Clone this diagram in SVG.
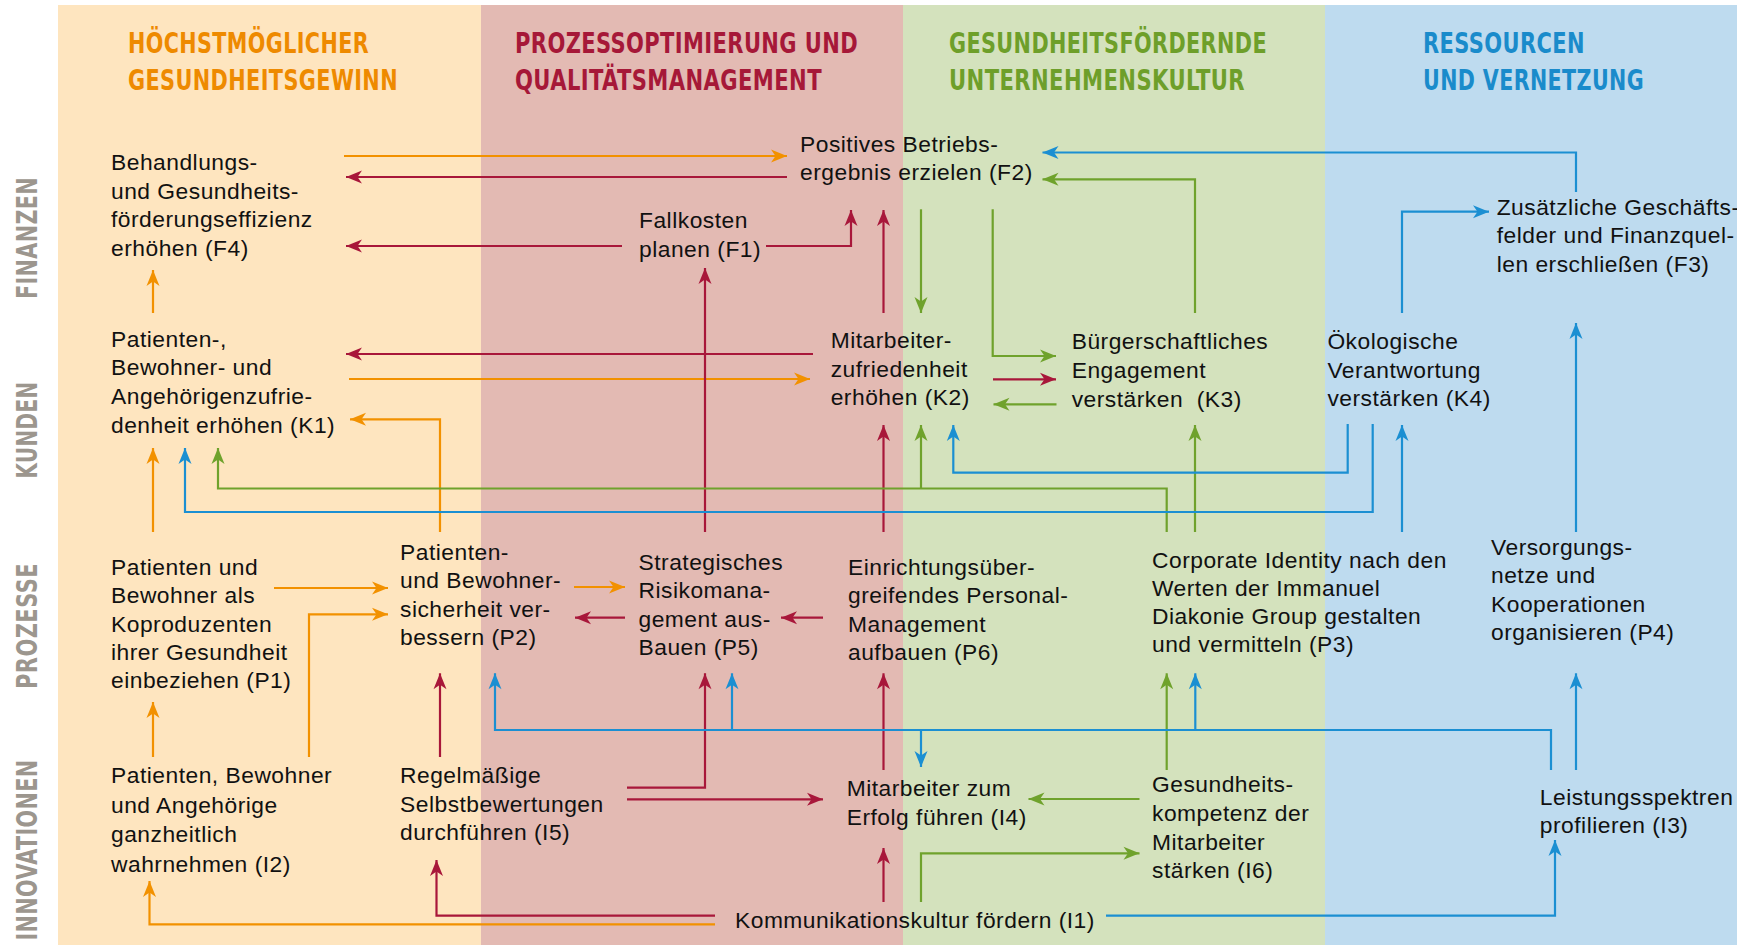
<svg xmlns="http://www.w3.org/2000/svg" width="1737" height="947" viewBox="0 0 1737 947">
<style>
.t{font-family:"Liberation Sans",Arial,Helvetica,sans-serif;font-size:22.8px;letter-spacing:0.5px;fill:#111;white-space:pre}
.h{font-family:"DejaVu Sans Condensed","DejaVu Sans",sans-serif;font-weight:bold;font-size:29px;letter-spacing:0.5px}
.rl{font-family:"DejaVu Sans Condensed","DejaVu Sans",sans-serif;font-weight:bold;font-size:29px;letter-spacing:0.5px;fill:#9C968E}
.c{fill:none;stroke-width:2.2}
.o{stroke:#F29100}.r{stroke:#A8173A}.g{stroke:#6FA22C}.b{stroke:#1B8FD2}
</style>
<defs>
<marker id="mo" markerUnits="userSpaceOnUse" markerWidth="20" markerHeight="16" viewBox="-18 -8 20 16" refX="0" refY="0" orient="auto"><path d="M0,0 L-16,-6.5 L-11.5,0 L-16,6.5Z" fill="#F29100"/></marker>
<marker id="mr" markerUnits="userSpaceOnUse" markerWidth="20" markerHeight="16" viewBox="-18 -8 20 16" refX="0" refY="0" orient="auto"><path d="M0,0 L-16,-6.5 L-11.5,0 L-16,6.5Z" fill="#A8173A"/></marker>
<marker id="mg" markerUnits="userSpaceOnUse" markerWidth="20" markerHeight="16" viewBox="-18 -8 20 16" refX="0" refY="0" orient="auto"><path d="M0,0 L-16,-6.5 L-11.5,0 L-16,6.5Z" fill="#6FA22C"/></marker>
<marker id="mb" markerUnits="userSpaceOnUse" markerWidth="20" markerHeight="16" viewBox="-18 -8 20 16" refX="0" refY="0" orient="auto"><path d="M0,0 L-16,-6.5 L-11.5,0 L-16,6.5Z" fill="#1B8FD2"/></marker>
</defs>
<rect x="0" y="0" width="1737" height="947" fill="#FFFFFF"/>
<g id="bands">
<rect x="58" y="5" width="423" height="940" fill="#FEE5BF"/>
<rect x="481" y="5" width="422" height="940" fill="#E3BAB3"/>
<rect x="903" y="5" width="422" height="940" fill="#D4E2BD"/>
<rect x="1325" y="5" width="412" height="940" fill="#BEDBEF"/>
</g>
<g id="column-titles">
<text class="h" fill="#EE8A00" x="128" y="53" textLength="241" lengthAdjust="spacingAndGlyphs">HÖCHSTMÖGLICHER</text>
<text class="h" fill="#EE8A00" x="128" y="90" textLength="270" lengthAdjust="spacingAndGlyphs">GESUNDHEITSGEWINN</text>
<text class="h" fill="#A61838" x="515" y="53" textLength="343" lengthAdjust="spacingAndGlyphs">PROZESSOPTIMIERUNG UND</text>
<text class="h" fill="#A61838" x="515" y="90" textLength="307" lengthAdjust="spacingAndGlyphs">QUALITÄTSMANAGEMENT</text>
<text class="h" fill="#6E9F2A" x="949" y="53" textLength="318" lengthAdjust="spacingAndGlyphs">GESUNDHEITSFÖRDERNDE</text>
<text class="h" fill="#6E9F2A" x="949" y="90" textLength="296" lengthAdjust="spacingAndGlyphs">UNTERNEHMENSKULTUR</text>
<text class="h" fill="#1A8BCB" x="1423" y="53" textLength="162" lengthAdjust="spacingAndGlyphs">RESSOURCEN</text>
<text class="h" fill="#1A8BCB" x="1423" y="90" textLength="221" lengthAdjust="spacingAndGlyphs">UND VERNETZUNG</text>
</g>
<g id="row-labels">
<text class="rl" transform="translate(36.5,238) rotate(-90)" text-anchor="middle" textLength="122" lengthAdjust="spacingAndGlyphs">FINANZEN</text>
<text class="rl" transform="translate(36.5,430) rotate(-90)" text-anchor="middle" textLength="97" lengthAdjust="spacingAndGlyphs">KUNDEN</text>
<text class="rl" transform="translate(36.5,626) rotate(-90)" text-anchor="middle" textLength="126" lengthAdjust="spacingAndGlyphs">PROZESSE</text>
<text class="rl" transform="translate(36.5,850) rotate(-90)" text-anchor="middle" textLength="181" lengthAdjust="spacingAndGlyphs">INNOVATIONEN</text>
</g>
<g id="connectors">
<path class="c o" marker-end="url(#mo)" d="M344,156 H787"/>
<path class="c o" marker-end="url(#mo)" d="M349,379 H810"/>
<path class="c o" marker-end="url(#mo)" d="M153,313 V270"/>
<path class="c o" marker-end="url(#mo)" d="M440,532 V419.3 H350"/>
<path class="c o" marker-end="url(#mo)" d="M153,532 V448"/>
<path class="c o" marker-end="url(#mo)" d="M274,588 H388"/>
<path class="c o" marker-end="url(#mo)" d="M309,757 V614.3 H388"/>
<path class="c o" marker-end="url(#mo)" d="M574,587 H625"/>
<path class="c o" marker-end="url(#mo)" d="M153,757 V702"/>
<path class="c o" marker-end="url(#mo)" d="M715,924.3 H149.5 V881"/>
<path class="c r" marker-end="url(#mr)" d="M787,177 H346"/>
<path class="c r" marker-end="url(#mr)" d="M622,246 H346"/>
<path class="c r" marker-end="url(#mr)" d="M766,246 H851 V210"/>
<path class="c r" marker-end="url(#mr)" d="M883.5,313 V210"/>
<path class="c r" marker-end="url(#mr)" d="M813,354 H346"/>
<path class="c r" marker-end="url(#mr)" d="M993,379.3 H1056"/>
<path class="c r" marker-end="url(#mr)" d="M705,532 V268"/>
<path class="c r" marker-end="url(#mr)" d="M883.5,532 V425"/>
<path class="c r" marker-end="url(#mr)" d="M625,617.7 H575"/>
<path class="c r" marker-end="url(#mr)" d="M823,617.7 H781"/>
<path class="c r" marker-end="url(#mr)" d="M440,757 V673.3"/>
<path class="c r" marker-end="url(#mr)" d="M627,787.7 H705 V673.3"/>
<path class="c r" marker-end="url(#mr)" d="M627,799.3 H823"/>
<path class="c r" marker-end="url(#mr)" d="M883.5,770 V673.3"/>
<path class="c r" marker-end="url(#mr)" d="M883.5,902 V848"/>
<path class="c r" marker-end="url(#mr)" d="M715,915.7 H436.5 V860"/>
<path class="c g" marker-end="url(#mg)" d="M921,209.3 V313"/>
<path class="c g" marker-end="url(#mg)" d="M992.7,209.3 V356 H1056"/>
<path class="c g" marker-end="url(#mg)" d="M1056.5,404.3 H993.5"/>
<path class="c g" marker-end="url(#mg)" d="M1195,313 V179.3 H1042.5"/>
<path class="c g" marker-end="url(#mg)" d="M1166.7,532 V488.5 H218 V448"/>
<path class="c g" marker-end="url(#mg)" d="M921,488.5 V425"/>
<path class="c g" marker-end="url(#mg)" d="M1195,532 V425"/>
<path class="c g" marker-end="url(#mg)" d="M1139.5,799 H1028.5"/>
<path class="c g" marker-end="url(#mg)" d="M1166.7,770 V673.3"/>
<path class="c g" marker-end="url(#mg)" d="M921,902 V853.3 H1139.5"/>
<path class="c b" marker-end="url(#mb)" d="M1576,192 V152.5 H1042.5"/>
<path class="c b" marker-end="url(#mb)" d="M1402,313 V211.7 H1489"/>
<path class="c b" marker-end="url(#mb)" d="M1372.7,424 V512 H185 V448"/>
<path class="c b" marker-end="url(#mb)" d="M1347.7,424 V472.7 H953.3 V425"/>
<path class="c b" marker-end="url(#mb)" d="M1402,532 V425"/>
<path class="c b" marker-end="url(#mb)" d="M1576,532 V323"/>
<path class="c b" marker-end="url(#mb)" d="M1551,770 V730 H495 V673.3"/>
<path class="c b" marker-end="url(#mb)" d="M732,730 V673.3"/>
<path class="c b" marker-end="url(#mb)" d="M921,730 V767"/>
<path class="c b" marker-end="url(#mb)" d="M1195.3,730 V673.3"/>
<path class="c b" marker-end="url(#mb)" d="M1576,770 V673.3"/>
<path class="c b" marker-end="url(#mb)" d="M1106,915.7 H1555 V840"/>
</g>
<g id="F4"><text class="t" x="111" y="170"><tspan x="111">Behandlungs-</tspan><tspan x="111" dy="28.5">und Gesundheits-</tspan><tspan x="111" dy="28.5">förderungseffizienz</tspan><tspan x="111" dy="28.5">erhöhen (F4)</tspan></text></g>
<g id="F2"><text class="t" x="800" y="151.7"><tspan x="800">Positives Betriebs-</tspan><tspan x="800" dy="28.3">ergebnis erzielen (F2)</tspan></text></g>
<g id="F1"><text class="t" x="639" y="228.3"><tspan x="639">Fallkosten</tspan><tspan x="639" dy="28.4">planen (F1)</tspan></text></g>
<g id="F3"><text class="t" x="1496.7" y="215"><tspan x="1496.7">Zusätzliche Geschäfts-</tspan><tspan x="1496.7" dy="28.3">felder und Finanzquel-</tspan><tspan x="1496.7" dy="28.3">len erschließen (F3)</tspan></text></g>
<g id="K1"><text class="t" x="111" y="346.7"><tspan x="111">Patienten-,</tspan><tspan x="111" dy="28.6">Bewohner- und</tspan><tspan x="111" dy="28.6">Angehörigenzufrie-</tspan><tspan x="111" dy="28.6">denheit erhöhen (K1)</tspan></text></g>
<g id="K2"><text class="t" x="830.7" y="348.3"><tspan x="830.7">Mitarbeiter-</tspan><tspan x="830.7" dy="28.3">zufriedenheit</tspan><tspan x="830.7" dy="28.3">erhöhen (K2)</tspan></text></g>
<g id="K3"><text class="t" x="1071.7" y="349.3"><tspan x="1071.7">Bürgerschaftliches</tspan><tspan x="1071.7" dy="28.7">Engagement</tspan><tspan x="1071.7" dy="28.7">verstärken  (K3)</tspan></text></g>
<g id="K4"><text class="t" x="1327.4" y="349.3"><tspan x="1327.4">Ökologische</tspan><tspan x="1327.4" dy="28.4">Verantwortung</tspan><tspan x="1327.4" dy="28.4">verstärken (K4)</tspan></text></g>
<g id="P1"><text class="t" x="111" y="575"><tspan x="111">Patienten und</tspan><tspan x="111" dy="28.3">Bewohner als</tspan><tspan x="111" dy="28.3">Koproduzenten</tspan><tspan x="111" dy="28.3">ihrer Gesundheit</tspan><tspan x="111" dy="28.3">einbeziehen (P1)</tspan></text></g>
<g id="P2"><text class="t" x="400" y="560"><tspan x="400">Patienten-</tspan><tspan x="400" dy="28.3">und Bewohner-</tspan><tspan x="400" dy="28.3">sicherheit ver-</tspan><tspan x="400" dy="28.3">bessern (P2)</tspan></text></g>
<g id="P5"><text class="t" x="638.5" y="570"><tspan x="638.5">Strategisches</tspan><tspan x="638.5" dy="28.4">Risikomana-</tspan><tspan x="638.5" dy="28.4">gement aus-</tspan><tspan x="638.5" dy="28.4">Bauen (P5)</tspan></text></g>
<g id="P6"><text class="t" x="848" y="575"><tspan x="848">Einrichtungsüber-</tspan><tspan x="848" dy="28.3">greifendes Personal-</tspan><tspan x="848" dy="28.3">Management</tspan><tspan x="848" dy="28.3">aufbauen (P6)</tspan></text></g>
<g id="P3"><text class="t" x="1152" y="568.3"><tspan x="1152">Corporate Identity nach den</tspan><tspan x="1152" dy="27.8">Werten der Immanuel</tspan><tspan x="1152" dy="27.8">Diakonie Group gestalten</tspan><tspan x="1152" dy="27.8">und vermitteln (P3)</tspan></text></g>
<g id="P4"><text class="t" x="1491" y="555"><tspan x="1491">Versorgungs-</tspan><tspan x="1491" dy="28.3">netze und</tspan><tspan x="1491" dy="28.3">Kooperationen</tspan><tspan x="1491" dy="28.3">organisieren (P4)</tspan></text></g>
<g id="I2"><text class="t" x="111" y="783.3"><tspan x="111">Patienten, Bewohner</tspan><tspan x="111" dy="29.4">und Angehörige</tspan><tspan x="111" dy="29.4">ganzheitlich</tspan><tspan x="111" dy="29.4">wahrnehmen (I2)</tspan></text></g>
<g id="I5"><text class="t" x="400" y="783.3"><tspan x="400">Regelmäßige</tspan><tspan x="400" dy="28.4">Selbstbewertungen</tspan><tspan x="400" dy="28.4">durchführen (I5)</tspan></text></g>
<g id="I4"><text class="t" x="846.7" y="796"><tspan x="846.7">Mitarbeiter zum</tspan><tspan x="846.7" dy="29">Erfolg führen (I4)</tspan></text></g>
<g id="I6"><text class="t" x="1152" y="791.7"><tspan x="1152">Gesundheits-</tspan><tspan x="1152" dy="28.9">kompetenz der</tspan><tspan x="1152" dy="28.9">Mitarbeiter</tspan><tspan x="1152" dy="28.9">stärken (I6)</tspan></text></g>
<g id="I3"><text class="t" x="1539.8" y="805"><tspan x="1539.8">Leistungsspektren</tspan><tspan x="1539.8" dy="28.3">profilieren (I3)</tspan></text></g>
<g id="I1"><text class="t" x="735" y="928.3">Kommunikationskultur fördern (I1)</text></g>
</svg>
